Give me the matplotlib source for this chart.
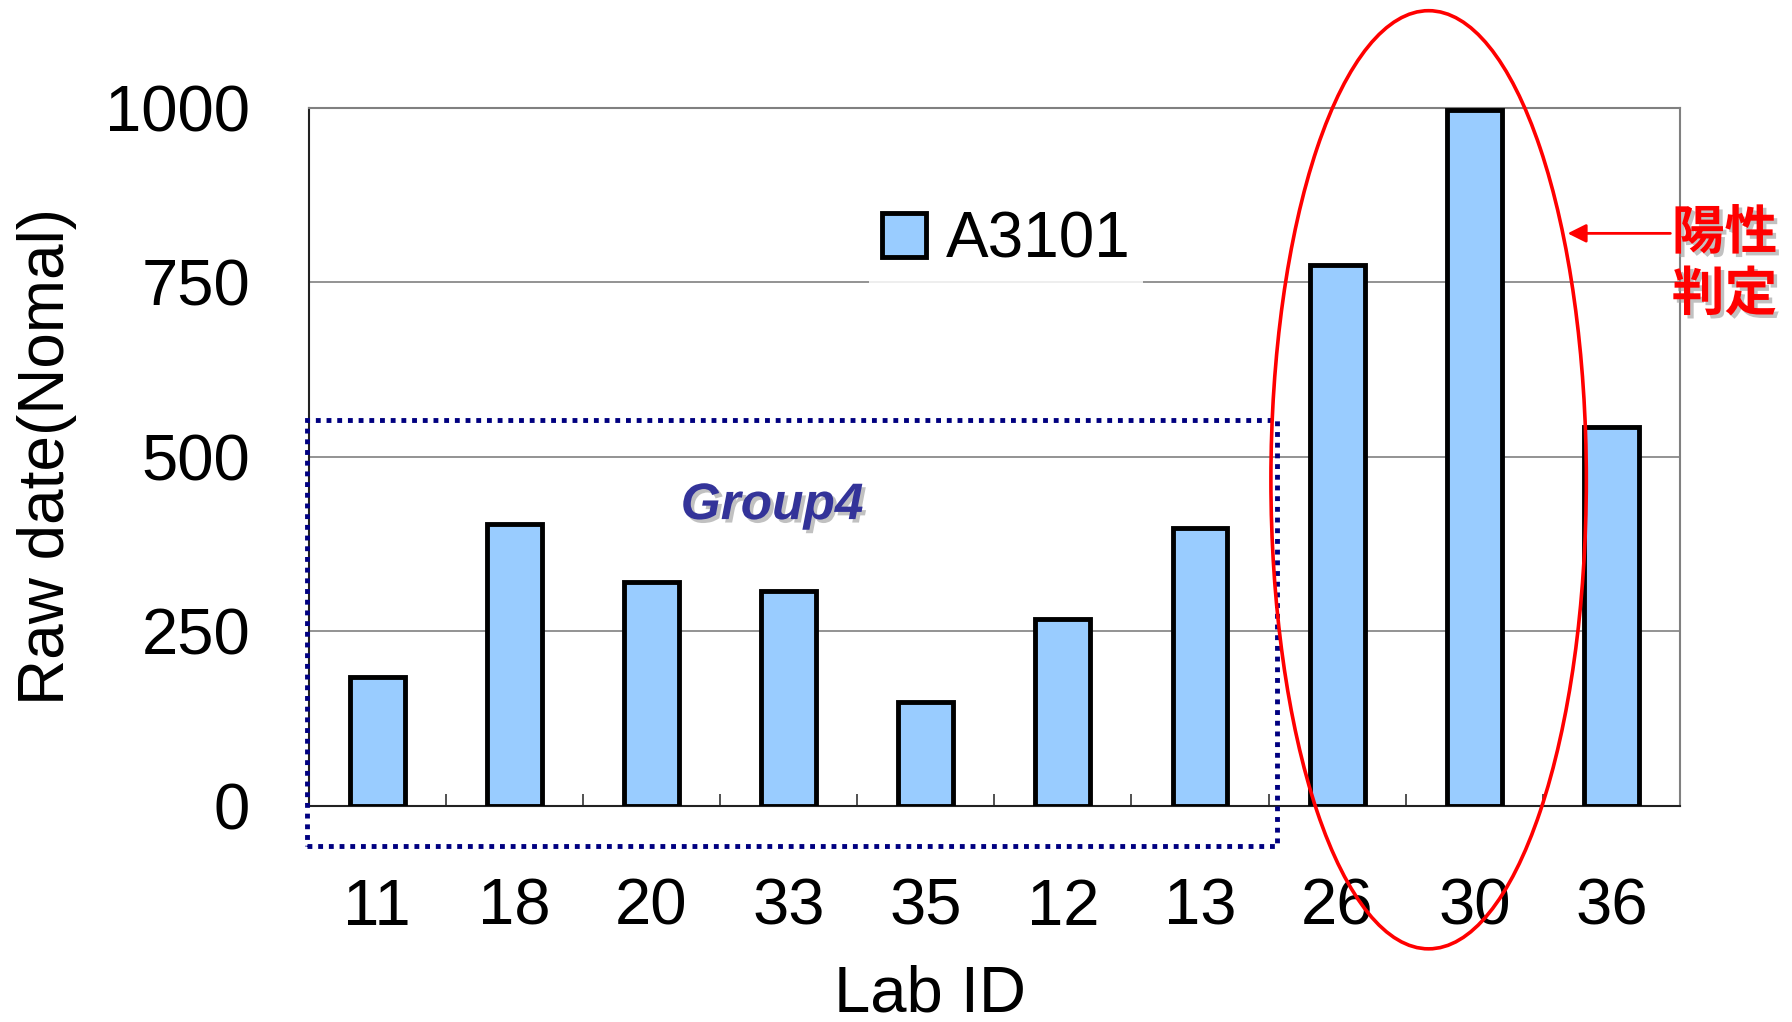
import matplotlib
matplotlib.use('Agg')
import matplotlib.pyplot as plt
import matplotlib.patheffects as pe
from matplotlib.patches import Ellipse, Rectangle

lab_ids = ['11', '18', '20', '33', '35', '12', '13', '26', '30', '36']
a3101 = [184, 403, 320, 307, 149, 267, 398, 774, 997, 543]
series_name = 'A3101'
group_label = 'Group4'
positive_label = '陽性\n判定'

plt.rcParams['font.family'] = ['Liberation Sans', 'Noto Sans CJK JP', 'DejaVu Sans']

fig = plt.figure(figsize=(17.92, 10.22), dpi=100)
ax = fig.add_axes([0.1722, 0.2116, 0.9375 - 0.1722, 0.8946 - 0.2116])

x = list(range(len(lab_ids)))
ax.bar(x, a3101, width=0.4, color='#99CCFF', edgecolor='black', linewidth=3.5,
       label=series_name, zorder=3)

ax.set_xlim(-0.5, len(lab_ids) - 0.5)
ax.set_ylim(0, 1000)
ax.set_yticks([0, 250, 500, 750, 1000])
ax.yaxis.grid(True, color='#808080', linewidth=1.2, zorder=0)
ax.set_axisbelow(True)

ax.set_xticks(x)
ax.set_xticklabels(lab_ids)
ax.set_xticks([i + 0.5 for i in x[:-1]], minor=True)
ax.tick_params(axis='x', which='major', length=0, pad=52, labelsize=47)
ax.tick_params(axis='x', which='minor', direction='in', length=9, width=1.2, color='#333333')
ax.tick_params(axis='y', length=0, pad=42, labelsize=47)

for side in ('top', 'right'):
    ax.spines[side].set_color('#808080')
    ax.spines[side].set_linewidth(1.5)
for side in ('left', 'bottom'):
    ax.spines[side].set_color('#222222')
    ax.spines[side].set_linewidth(1.5)

ax.set_xlabel('Lab ID', fontsize=47)
ax.xaxis.set_label_coords(0.453, -0.228)
ax.set_ylabel('Raw date(Nomal)', fontsize=46, labelpad=20)

leg = ax.legend(loc='center', bbox_to_anchor=(0.5085, 0.81), fontsize=46,
                frameon=True, facecolor='white', edgecolor='none', framealpha=0.85,
                handlelength=0.7, handleheight=0.7, handletextpad=0.3,
                borderpad=0.2, fancybox=False)

# dotted box around the Group4 labs
ax.add_patch(Rectangle((-0.508, -57), 7.066, 609, fill=False, edgecolor='#000080',
                       linewidth=3.5, linestyle=(0, (1.0, 1.2)), clip_on=False, zorder=5))
ax.text(2.88, 430, group_label, fontsize=37, fontweight='bold', fontstyle='italic',
        color='#333399', ha='center', va='center', zorder=6,
        path_effects=[pe.SimplePatchShadow(offset=(2.5, -2.5), shadow_rgbFace='#999999', alpha=0.6),
                      pe.Normal()])

# red ellipse marking the positive labs
ax.add_patch(Ellipse((7.667, 467), 2.3, 1344, fill=False, edgecolor='red',
                     linewidth=2.6, clip_on=False, zorder=6))
ax.annotate('', xy=(8.66, 820), xytext=(9.45, 820),
            arrowprops=dict(arrowstyle='-|>', color='red', lw=2, mutation_scale=28),
            annotation_clip=False, zorder=6)
ax.text(9.44, 776, positive_label, fontsize=38, fontweight='bold', color='red',
        family=['Noto Sans CJK JP'], ha='left', va='center', linespacing=1.2, zorder=7,
        path_effects=[pe.SimplePatchShadow(offset=(2.5, -2.5), shadow_rgbFace='#999999', alpha=0.6),
                      pe.Normal()])

fig.savefig('out.png', dpi=100)
